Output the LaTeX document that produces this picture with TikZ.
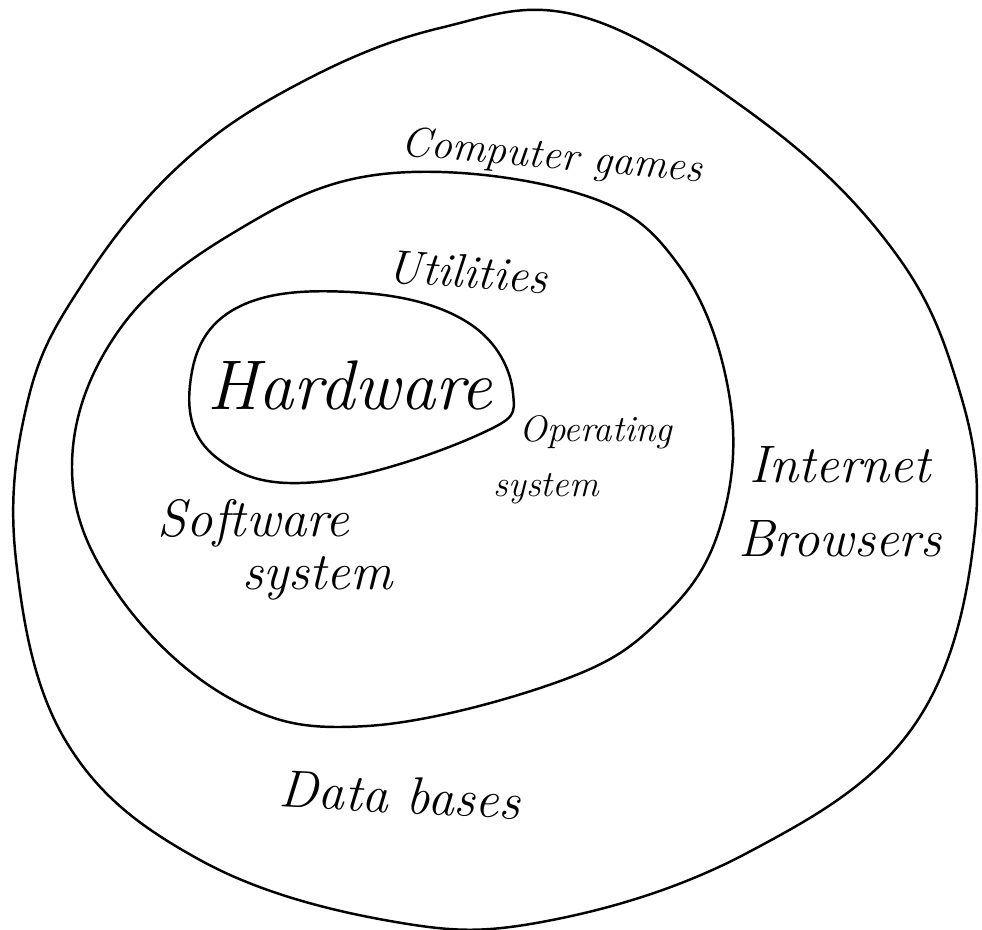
\documentclass[tikz,border=0pt]{standalone}
\usepackage{amsmath}
\usepackage{tikz}
\usetikzlibrary{positioning}

\begin{document}
\begin{tikzpicture}[x=0.02cm, y=-0.02cm,
    ring/.style={line width=1.4pt, line join=round},
    txt/.style={inner sep=1pt}]
    \useasboundingbox (0,0) rectangle (982,929);

    % Outer layer
    \draw[ring] plot[smooth cycle, tension=0.65] coordinates {
        (580,16) (747,110) (880,233) (952,367) (975,530) (913,727) (747,853)
        (547,921) (390,921) (200,860) (67,743) (16,560) (28,400) (83,283)
        (180,165) (300,83) (440,28)};

    % Middle layer
    \draw[ring] plot[smooth cycle, tension=0.65] coordinates {
        (383,174) (580,194) (680,267) (730,400) (720,527) (663,617) (563,680)
        (367,726) (233,700) (117,593) (72,467) (117,333) (233,233)};

    % Core
    \draw[ring] plot[smooth cycle, tension=0.7] coordinates {
        (190,385) (233,310) (350,292) (467,322) (513,393) (478,435) (317,482)
        (217,458)};

    % Labels
    \node[txt, font=\itshape\fontsize{40}{44}\selectfont] (hw) at (350,385) {Hardware};
    \node[txt, font=\itshape\fontsize{27}{30}\selectfont, rotate=-4] (util) at (468,272) {Utilities};
    \node[txt, font=\itshape\fontsize{24}{28}\selectfont, rotate=-5] (games) at (552,158) {Computer games};
    \node[txt, font=\itshape\fontsize{21}{31}\selectfont, align=left] (os) at (583,460) {\hspace*{0.7em}Operating\\system};
    \node[txt, font=\itshape\fontsize{30}{30}\selectfont, align=left] (soft) at (275,550) {Software\\\hspace*{1.6em}system};
    \node[txt, font=\itshape\fontsize{30}{42}\selectfont, align=center] (web) at (840,502) {Internet\\Browsers};
    \node[txt, font=\itshape\fontsize{30}{34}\selectfont, rotate=-3] (db) at (400,795) {Data bases};

\end{tikzpicture}
\end{document}
